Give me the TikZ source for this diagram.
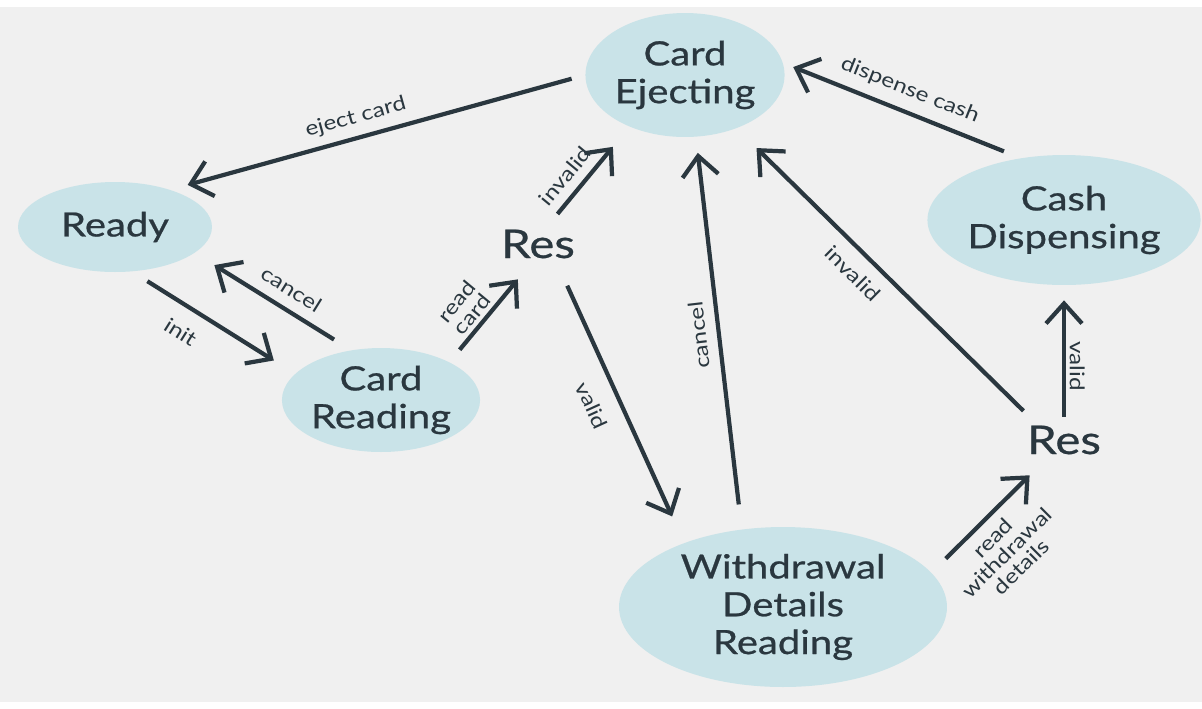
\documentclass[tikz,border=0pt]{standalone}
\usepackage{fontspec}
\setmainfont{Lato}[FakeStretch=1.2]
\newfontfamily\statefont{Lato}[FakeStretch=1.2, FakeBold=0.7]
\usetikzlibrary{arrows.meta,shapes.geometric}
\definecolor{statefill}{HTML}{C9E3E8}
\definecolor{inkdark}{HTML}{2A373F}
\definecolor{paper}{HTML}{F0F0F0}
\begin{document}
\begin{tikzpicture}[x=0.02cm,y=-0.02cm]
\tikzstyle{state}=[ellipse, fill=statefill, text=inkdark, font=\statefont\fontsize{19}{21.5}\selectfont, align=center, inner sep=0pt]
\tikzstyle{res}=[ellipse, text=inkdark, font=\statefont\fontsize{22.5}{26}\selectfont, inner sep=0pt]
\tikzstyle{line}=[draw=inkdark, line width=2.4pt, -{Straight Barb[length=0.4cm,width=0.72cm]}]
\tikzstyle{lbl}=[font=\fontsize{11.5}{11.5}\selectfont, text=inkdark, inner sep=2pt]

% Background
\fill[white] (0,0) rectangle (1202,708);
\fill[paper] (0,7) rectangle (1202,702);

% Define states
\node[state, minimum width=3.88cm, minimum height=1.8cm] (ready) at (115,227) {Ready};
\node[state, minimum width=3.88cm, minimum height=2.08cm] (cardread) at (381,400) {Card\\Reading};
\node[state, minimum width=3.72cm, minimum height=2.48cm] (eject) at (685,75) {Card\\Ejecting};
\node[state, minimum width=5.12cm, minimum height=2.6cm] (cash) at (1064,220) {Cash\\Dispensing};
\node[state, minimum width=6.56cm, minimum height=3.2cm] (wdr) at (783,607) {Withdrawal\\Details\\Reading};
\node[res, minimum width=2cm, minimum height=1.28cm] (res1) at (538,244) {Res};
\node[res, minimum width=2.2cm, minimum height=1.2cm] (res2) at (1064,440) {Res};

% Draw transitions
\draw[line, shorten <=0.28cm, shorten >=0.36cm] (eject.180) -- node[lbl, sloped, above=3pt, pos=0.54] {eject card} (ready.34);
\draw[line, shorten <=0.4cm, shorten >=0.46cm] (cardread.121) -- node[lbl, sloped, above=4pt, pos=0.45] {cancel} (ready.-18);
\draw[line, shorten <=0.36cm, shorten >=0.5cm] (ready.-69) -- node[lbl, sloped, below=7pt, pos=0.38] {init} (cardread.163);
\draw[line, shorten <=0.32cm, shorten >=0.12cm] (cardread.29) -- node[lbl, sloped, above, pos=0.45, align=center] {read\\card} (res1.242);
\draw[line, shorten >=0.52cm] (res1.57) -- node[lbl, sloped, above=3pt, pos=0.3] {invalid} (eject.223);
\draw[line, shorten <=0.28cm, shorten >=0.58cm] (res1.-51) -- node[lbl, sloped, below=8pt, pos=0.45] {valid} (wdr.147);
\draw[line, shorten <=0.5cm, shorten >=0.32cm] (wdr.118) -- node[lbl, sloped, allow upside down, above=4pt, pos=0.5] {cancel} (eject.-80);
\draw[line, shorten <=0.16cm, shorten >=0.56cm] (res2.146) -- node[lbl, sloped, below=5pt, pos=0.55] {invalid} (eject.-46);
\draw[line, shorten <=0.36cm, shorten >=0.22cm] (cash.125) -- node[lbl, sloped, above=4pt] {dispense cash} (eject.7);
\draw[line, shorten <=-0.14cm, shorten >=0.3cm] (res2.north) -- node[lbl, pos=0.35, rotate=-90, anchor=south] {valid} (cash.south);
\draw[line, shorten <=0.4cm, shorten >=0.24cm] (wdr.13) -- node[lbl, sloped, below=3pt, pos=0.45, align=center] {read\\withdrawal\\details} (res2.226);
\end{tikzpicture}
\end{document}
